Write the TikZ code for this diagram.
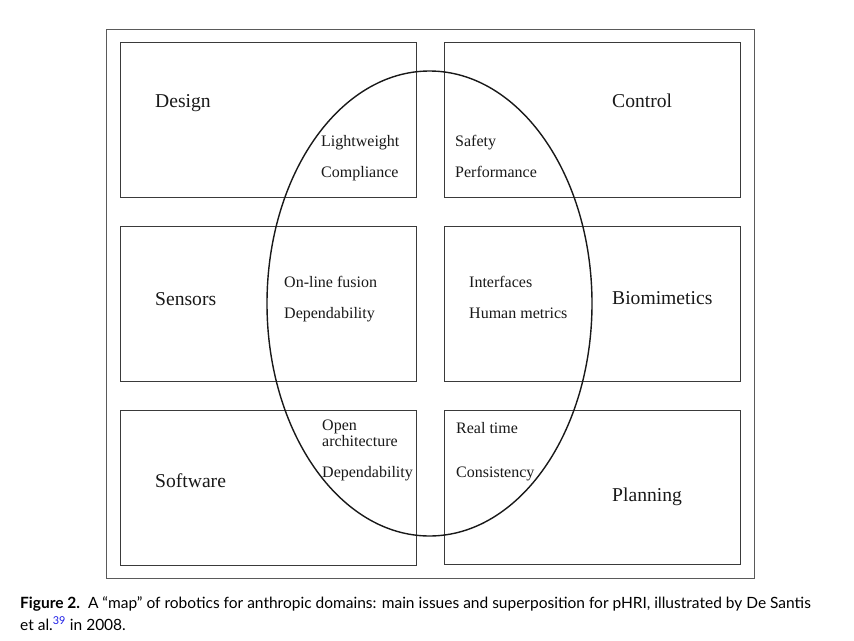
\documentclass[tikz,border=0pt]{standalone}
\usepackage{fontspec}
\setmainfont{Liberation Serif}
\newfontfamily\capfont{Lato}
\usetikzlibrary{shapes.geometric}
\definecolor{boxline}{HTML}{3A3A3A}
\definecolor{frameline}{HTML}{5A5A5A}
\definecolor{citeblue}{HTML}{1E1EE6}
\tikzset{
  domainbox/.style={draw=boxline, line width=1.3pt, minimum width=296pt, minimum height=155pt, inner sep=0pt, anchor=north west, fill=white},
  bigtxt/.style={anchor=base west, inner sep=0pt, font=\fontsize{19.6}{23}\selectfont, text=black!90},
  smalltxt/.style={anchor=base west, inner sep=0pt, font=\fontsize{16}{19}\selectfont, text=black!90},
}
\begin{document}
\begin{tikzpicture}[x=1pt,y=-1pt]
\useasboundingbox (0,0) rectangle (854,640);
% outer frame
\node[draw=frameline, line width=1.2pt, minimum width=648pt, minimum height=549pt, inner sep=0pt, anchor=north west] (frame) at (106,29) {};
% domain boxes
\node[domainbox] (designbox) at (120,42) {};
\node[domainbox] (controlbox) at (444,42) {};
\node[domainbox] (sensorsbox) at (120,226) {};
\node[domainbox] (biobox) at (444,226) {};
\node[domainbox] (softwarebox) at (120,410) {};
\node[domainbox, minimum height=154pt] (planningbox) at (444,410) {};
% overlap ellipse
\node[draw=black!90, line width=1.4pt, ellipse, minimum width=325pt, minimum height=465pt, inner sep=0pt] (overlap) at (429.5,303.5) {};
% domain names
\node[bigtxt] (design) at (155,107) {Design};
\node[bigtxt] (control) at (612,107) {Control};
\node[bigtxt] (sensors) at (155,305) {Sensors};
\node[bigtxt] (biomimetics) at (612,304) {Biomimetics};
\node[bigtxt] (software) at (155,487) {Software};
\node[bigtxt] (planning) at (612,501) {Planning};
% issues
\node[smalltxt] (lightweight) at (321,146) {Lightweight};
\node[smalltxt] (compliance) at (321,177) {Compliance};
\node[smalltxt] (safety) at (455,146) {Safety};
\node[smalltxt] (performance) at (455,177) {Performance};
\node[smalltxt] (fusion) at (284,287) {On-line fusion};
\node[smalltxt] (depend1) at (284,318) {Dependability};
\node[smalltxt] (interfaces) at (469,287) {Interfaces};
\node[smalltxt] (metrics) at (469,318) {Human metrics};
\node[smalltxt, align=left, font=\fontsize{16}{13}\selectfont] (openarch) at (322,446) {Open\\architecture};
\node[smalltxt] (depend2) at (322,477) {Dependability};
\node[smalltxt] (realtime) at (456,433) {Real time};
\node[smalltxt] (consistency) at (456,477) {Consistency};
% caption
\node[anchor=base west, inner sep=0pt, align=left, font=\capfont\fontsize{15.5}{22}\selectfont] (caption) at (20,630)
  {\textbf{Figure 2.}\ \ A “map” of robotics for anthropic domains: main issues and superposition for pHRI, illustrated by De Santis\\
   et al.\textsuperscript{\color{citeblue}39} in 2008.};
\end{tikzpicture}
\end{document}
